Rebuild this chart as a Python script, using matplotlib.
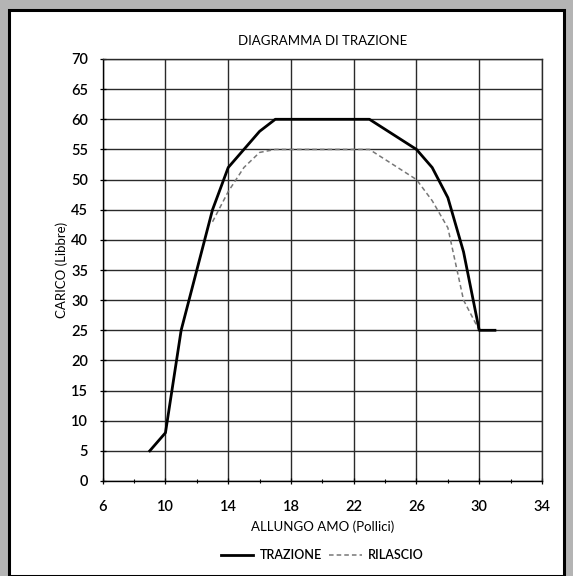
import matplotlib
matplotlib.use("Agg")
import matplotlib.pyplot as plt
from matplotlib.patches import Rectangle
from matplotlib.ticker import MultipleLocator

# Data
trazione_x = [9, 10, 11, 12, 13, 14, 15, 16, 17, 23, 26, 27, 28, 29, 30, 31]
trazione_y = [5, 8, 25, 35, 45, 52, 55, 58, 60, 60, 55, 52, 47, 38, 25, 25]
rilascio_x = [13, 14, 14.5, 15, 16, 17, 23, 26, 27, 28, 29, 30]
rilascio_y = [43, 48, 50, 52, 54.5, 55, 55, 50, 46.5, 42, 30, 25]
x_ticks = [6, 10, 14, 18, 22, 26, 30, 34]
y_ticks = list(range(0, 75, 5))

plt.rcParams['font.family'] = ['Lato', 'DejaVu Sans']
plt.rcParams['font.weight'] = 'semibold'

fig = plt.figure(figsize=(5.73, 5.76), dpi=100)
fig.patch.set_facecolor('#b4b4b4')
# white panel with black border
fig.patches.append(Rectangle((9/573, 0), (564-9)/573, (576-10)/576, transform=fig.transFigure,
                             facecolor='white', edgecolor='black', linewidth=2.2, zorder=-5))

ax = fig.add_axes([102.7/573, (576-481)/576, (542-102.7)/573, (481-59)/576])
ax.set_zorder(1)
ax.set_facecolor('white')
ax.plot(trazione_x, trazione_y, color='black', linewidth=2.0, label='TRAZIONE', zorder=3)
ax.plot(rilascio_x, rilascio_y, color='#777777', linewidth=1.1, linestyle=(0, (3, 2)),
        label='RILASCIO', zorder=2)

ax.set_xlim(6, 34)
ax.set_ylim(0, 70)
ax.set_xticks(x_ticks)
ax.set_yticks(y_ticks)
ax.xaxis.set_minor_locator(MultipleLocator(2))
ax.grid(True, which='major', color='#2a2a2a', linewidth=1.0)
ax.tick_params(axis='both', which='major', length=5, width=0.9, direction='inout',
               labelsize=10.5)
ax.tick_params(axis='x', which='major', pad=11)
ax.tick_params(axis='y', which='major', pad=8)
ax.tick_params(axis='x', which='minor', length=3, width=0.8, direction='inout')
for s in ['top', 'right']:
    ax.spines[s].set_color('#2a2a2a')
    ax.spines[s].set_linewidth(1.0)
for s in ['left', 'bottom']:
    ax.spines[s].set_color('black')
    ax.spines[s].set_linewidth(1.0)

ax.set_title('DIAGRAMMA DI TRAZIONE', fontsize=9.5, pad=10)
ax.set_xlabel('ALLUNGO AMO (Pollici)', fontsize=9.5, labelpad=5)
ax.set_ylabel('CARICO (Libbre)', fontsize=9.5, labelpad=2)

ax.legend(loc='upper center', bbox_to_anchor=(0.5, -0.135), ncol=2, frameon=False,
          fontsize=9, handlelength=2.6, columnspacing=0.6, handletextpad=0.5)

fig.savefig('out.png', dpi=100, facecolor=fig.get_facecolor())
